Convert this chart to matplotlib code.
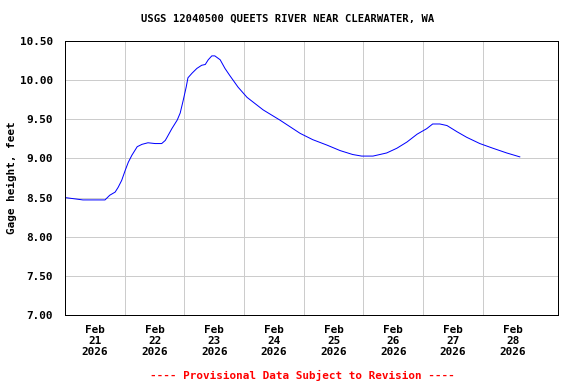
import matplotlib
matplotlib.use("Agg")
import matplotlib.pyplot as plt
import numpy as np

# gage height readings
# day offset from Feb 21 00:00, feet
days = [0.00, 0.30, 0.67, 0.75, 0.84, 0.89, 0.95, 1.01, 1.06, 1.12, 1.21,
        1.29, 1.39, 1.51, 1.62, 1.68, 1.71, 1.79, 1.88, 1.93, 1.98, 2.03,
        2.06, 2.13, 2.21, 2.29, 2.35, 2.40, 2.46, 2.51, 2.60, 2.68, 2.76,
        2.90, 3.05, 3.32, 3.60, 3.94, 4.15, 4.39, 4.61, 4.82, 4.97, 5.16,
        5.39, 5.56, 5.73, 5.90, 6.06, 6.16, 6.28, 6.40, 6.57, 6.73, 6.95,
        7.17, 7.40, 7.62]
gage = [8.50, 8.47, 8.47, 8.53, 8.57, 8.63, 8.72, 8.85, 8.95, 9.04, 9.15,
        9.18, 9.20, 9.19, 9.19, 9.23, 9.27, 9.38, 9.49, 9.58, 9.74, 9.91,
        10.03, 10.09, 10.15, 10.19, 10.20, 10.26, 10.31, 10.31, 10.26, 10.15, 10.06,
        9.91, 9.78, 9.62, 9.49, 9.32, 9.24, 9.17, 9.10, 9.05, 9.03, 9.03,
        9.07, 9.13, 9.21, 9.31, 9.38, 9.44, 9.44, 9.42, 9.34, 9.27, 9.19,
        9.13, 9.07, 9.02]

tick_labels = ["Feb\n%d\n2026" % d for d in range(21, 29)]
yticks = [7.00, 7.50, 8.00, 8.50, 9.00, 9.50, 10.00, 10.50]

font = "DejaVu Sans Mono"

fig = plt.figure(figsize=(8, 384 / 72), dpi=72)
ax = fig.add_axes([65 / 576, 69 / 384, 493 / 576, 274 / 384])

ax.plot(days, gage, color="blue", lw=1)

ax.set_xlim(0, 8.26)
ax.set_ylim(7.0, 10.5)

ax.set_xticks(np.arange(0.5, 8, 1))
ax.set_xticklabels(tick_labels, fontfamily=font, fontweight="bold", fontsize=11,
                   linespacing=1.15)
ax.set_xticks(np.arange(1, 8, 1), minor=True)
ax.set_yticks(yticks)
ax.set_yticklabels(["%.2f" % v for v in yticks], fontfamily=font, fontweight="bold",
                   fontsize=11)

ax.tick_params(axis="x", which="both", length=0, pad=10)
ax.tick_params(axis="y", length=0, pad=12)
ax.grid(True, which="minor", axis="x", color="#cccccc", lw=1)
ax.grid(True, which="major", axis="y", color="#cccccc", lw=1)

for s in ax.spines.values():
    s.set_color("black")
    s.set_linewidth(1)

ax.set_ylabel("Gage height, feet", fontfamily=font, fontweight="bold", fontsize=11,
              labelpad=3)
fig.text(288 / 576, 1 - 19 / 384, "USGS 12040500 QUEETS RIVER NEAR CLEARWATER, WA",
         ha="center", va="center", fontfamily=font, fontweight="bold", fontsize=10.5)
fig.text(302 / 576, 1 - 375 / 384, "---- Provisional Data Subject to Revision ----",
         ha="center", va="center", color="red", fontfamily=font, fontweight="bold",
         fontsize=11)

fig.savefig("out.png", dpi=72)
